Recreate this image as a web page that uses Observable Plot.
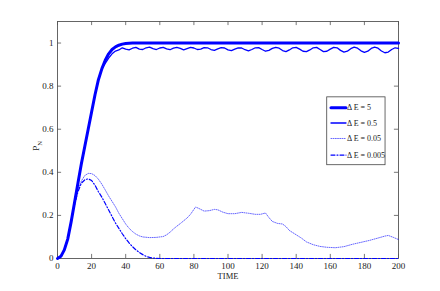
<!DOCTYPE html>
<html>
<head>
<meta charset="utf-8">
<script src="https://cdn.jsdelivr.net/npm/d3@7"></script>
<script src="https://cdn.jsdelivr.net/npm/@observablehq/plot@0.6"></script>
<style>
  html, body { margin: 0; padding: 0; background: #fff; }
  #chart { width: 440px; height: 291px; }
</style>
</head>
<body>
<div id="chart"></div>
<script>
// ---- data ----
const seriesNames = ["\u0394 E = 5", "\u0394 E = 0.5", "\u0394 E = 0.05", "\u0394 E = 0.005"];

const t5 = [0,2,4,6,8,10,12,14,16,18,20,22,24,26,28,30,32,34,36,38,40,44,50,200];
const p5 = [0,0.01,0.04,0.09,0.17,0.26,0.35,0.44,0.52,0.6,0.68,0.76,0.83,0.88,0.92,0.95,0.97,0.982,0.99,0.995,0.998,1,1,1];

const t05 = [0,2,4,6,8,10,12,14,16,18,20,22,24,26,28,30,32,34,36,38,40,42,44,46,48,50,52,54,56,58,60,62,64,66,68,70,72,74,76,78,80,82,84,86,88,90,92,94,96,98,100,102,104,106,108,110,112,114,116,118,120,122,124,126,128,130,132,134,136,138,140,142,144,146,148,150,152,154,156,158,160,162,164,166,168,170,172,174,176,178,180,182,184,186,188,190,192,194,196,198,200];
const p05 = [0,0.01,0.04,0.09,0.17,0.26,0.35,0.44,0.52,0.6,0.68,0.76,0.83,0.88,0.905,0.93,0.95,0.963,0.968,0.978,0.972,0.968,0.976,0.98,0.972,0.97,0.978,0.981,0.974,0.97,0.977,0.98,0.973,0.969,0.976,0.98,0.975,0.968,0.974,0.98,0.977,0.97,0.972,0.979,0.978,0.97,0.966,0.973,0.979,0.977,0.968,0.965,0.972,0.978,0.977,0.969,0.964,0.97,0.978,0.979,0.97,0.962,0.966,0.975,0.98,0.976,0.965,0.96,0.968,0.978,0.98,0.972,0.962,0.96,0.968,0.978,0.98,0.97,0.96,0.962,0.972,0.98,0.978,0.966,0.958,0.962,0.974,0.981,0.976,0.964,0.957,0.962,0.975,0.981,0.976,0.963,0.955,0.958,0.97,0.978,0.975];

const t005 = [0,2,4,6,8,10,12,14,16,18,20,22,24,26,28,30,32,34,36,38,40,42,44,46,48,50,54,58,62,64,66,68,70,72,74,76,78,80,81,83,86,89,92,94,97,100,104,108,112,116,119,122,124,126,129,132,134,136,138,140,143,146,150,154,158,163,168,173,178,183,188,192,194,197,200];
const p005 = [0,0.01,0.04,0.09,0.17,0.25,0.32,0.36,0.385,0.395,0.394,0.385,0.368,0.345,0.318,0.29,0.265,0.24,0.21,0.185,0.16,0.14,0.125,0.113,0.105,0.1,0.097,0.098,0.102,0.11,0.122,0.137,0.15,0.162,0.175,0.188,0.205,0.228,0.239,0.232,0.22,0.222,0.228,0.226,0.215,0.208,0.208,0.214,0.21,0.205,0.205,0.211,0.19,0.172,0.163,0.16,0.148,0.13,0.12,0.11,0.095,0.077,0.064,0.056,0.052,0.05,0.055,0.066,0.075,0.084,0.095,0.104,0.107,0.098,0.088];

const t0005 = [0,2,4,6,8,10,12,14,16,18,20,22,24,26,28,30,32,34,36,38,40,42,44,46,48,50,52,54,56,58,60,200];
const p0005 = [0,0.01,0.04,0.09,0.17,0.25,0.31,0.35,0.365,0.37,0.362,0.34,0.31,0.285,0.255,0.225,0.195,0.165,0.14,0.115,0.092,0.072,0.055,0.04,0.028,0.018,0.01,0.005,0.002,0.0005,0,0];

const xTicks = [0,20,40,60,80,100,120,140,160,180,200];
const yTicks = [0,0.2,0.4,0.6,0.8,1];

// ---- build ----
const times = [t5, t05, t005, t0005];
const vals = [p5, p05, p005, p0005];
const styles = [
  {strokeWidth: 3},
  {strokeWidth: 1.3},
  {strokeWidth: 0.8, strokeDasharray: "0.9,1.3", strokeOpacity: 0.75},
  {strokeWidth: 1.2, strokeDasharray: "4,2,1,2"}
];
const series = seriesNames.map((name, i) => times[i].map((t, j) => ({t, p: vals[i][j], name})));

// legend placement (data coordinates)
const legX0 = 158.2, legX1 = 192.4, legY0 = 0.433, legY1 = 0.748;
const legRows = [0.70, 0.629, 0.557, 0.48];

const tickLenY = 0.019, tickLenX = 2.4;

const marks = [
  Plot.frame({stroke: "#555", strokeWidth: 0.9}),
  Plot.ruleX(xTicks, {y1: 0, y2: tickLenY, stroke: "#555", strokeWidth: 0.8}),
  Plot.ruleX(xTicks, {y1: 1.1, y2: 1.1 - tickLenY, stroke: "#555", strokeWidth: 0.8}),
  Plot.ruleY(yTicks, {x1: 0, x2: tickLenX, stroke: "#555", strokeWidth: 0.8}),
  Plot.ruleY(yTicks, {x1: 200, x2: 200 - tickLenX, stroke: "#555", strokeWidth: 0.8}),
  Plot.axisX({ticks: xTicks, tickSize: 0, tickPadding: 4, tickFormat: d => String(d), label: null, fill: "#222"}),
  Plot.axisY({ticks: yTicks, tickSize: 0, tickPadding: 4, tickFormat: d => String(d), label: null, fill: "#222"}),
];
series.forEach((s, i) => {
  marks.push(Plot.line(s, {x: "t", y: "p", stroke: "blue", strokeLinejoin: "round", ...styles[i]}));
});
// legend
marks.push(Plot.rect([0], {x1: legX0, x2: legX1, y1: legY0, y2: legY1, fill: "white", stroke: "#444", strokeWidth: 0.8}));
seriesNames.forEach((name, i) => {
  marks.push(Plot.line([[160.4, legRows[i]], [169.2, legRows[i]]], {stroke: "blue", ...styles[i]}));
  marks.push(Plot.text([name], {x: 169.8, y: legRows[i], text: d => d, textAnchor: "start", fontSize: 8, fill: "#222"}));
});

const chart = Plot.plot({
  width: 440, height: 291,
  marginLeft: 57, marginRight: 42, marginTop: 21, marginBottom: 33,
  x: {domain: [0, 200]},
  y: {domain: [0, 1.1]},
  style: {fontFamily: "'Liberation Serif', 'DejaVu Serif', serif", fontSize: "9px", background: "white", overflow: "visible"},
  marks
});
document.getElementById("chart").appendChild(chart);

// axis titles
const svg = d3.select(chart);
svg.append("text")
  .attr("x", 228).attr("y", 279)
  .attr("text-anchor", "middle")
  .attr("font-family", "'Liberation Serif', serif")
  .attr("font-size", 8.5)
  .attr("fill", "#222")
  .text("TIME");
const yl = svg.append("text")
  .attr("transform", "translate(39,146) rotate(-90)")
  .attr("text-anchor", "middle")
  .attr("font-family", "'Liberation Serif', serif")
  .attr("font-size", 9)
  .attr("fill", "#222");
yl.append("tspan").text("P");
yl.append("tspan").attr("font-size", 6.5).attr("dy", "3").text("N");
</script>
</body>
</html>
